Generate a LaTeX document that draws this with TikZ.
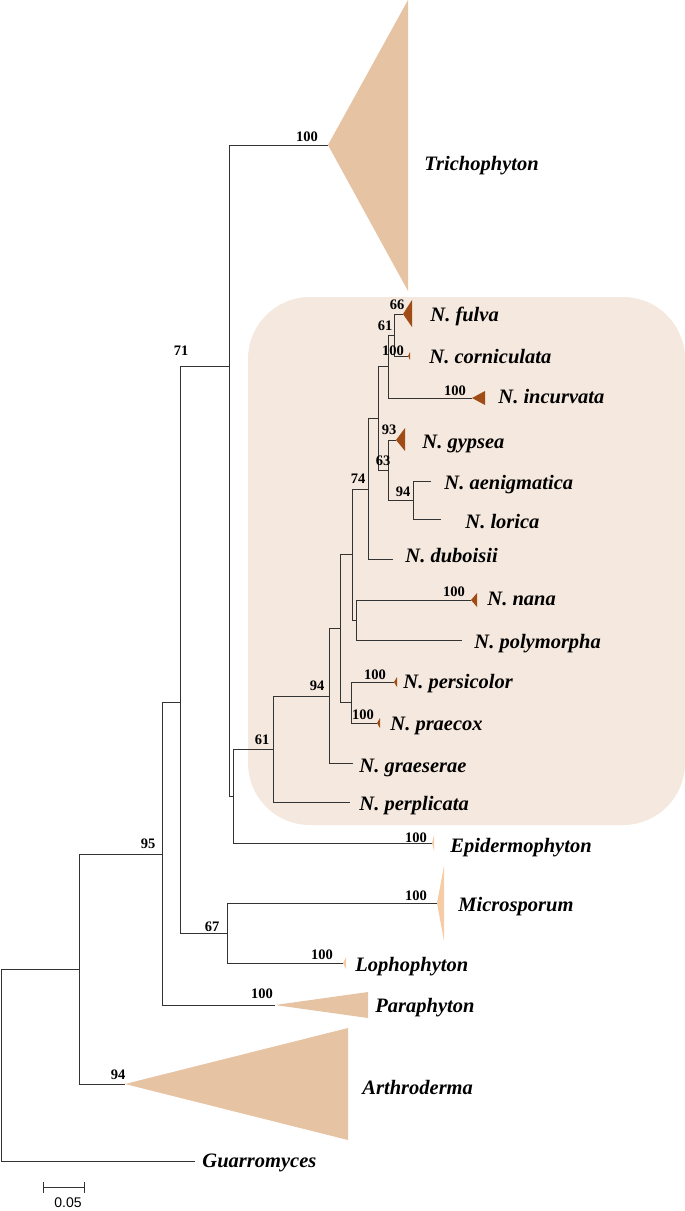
\documentclass[tikz,border=0pt]{standalone}
\usepackage{fontspec}
\setmainfont{Liberation Serif}
\newfontfamily\barfont{Liberation Sans}
\definecolor{boxtan}{RGB}{245,232,222}
\definecolor{cladetan}{RGB}{230,195,163}
\definecolor{cladepeach}{RGB}{246,204,166}
\definecolor{tipbrown}{RGB}{160,76,22}

\begin{document}
\begin{tikzpicture}[x=1pt, y=-1pt, line width=0.9pt,
	br/.style={draw=black!80},
	taxon/.style={anchor=base west, inner sep=0pt, font=\fontsize{20.5}{24}\selectfont\bfseries\itshape},
	boot/.style={anchor=base, inner sep=0pt, font=\fontsize{14.5}{17}\selectfont\bfseries}]
	\useasboundingbox (0,0) rectangle (685,1211);
	\fill[boxtan, rounded corners=62] (248,297) rectangle (685,825);

	\coordinate (root) at (1,969);
	\coordinate (n95) at (79,969);
	\coordinate (n162) at (162,854);
	\coordinate (n180) at (180,702);
	\coordinate (n71) at (229,366);
	\coordinate (n233) at (233,796);
	\coordinate (n67) at (227,933);
	\coordinate (n61) at (273,749);
	\coordinate (n94) at (329,696);
	\coordinate (n340) at (340,628);
	\coordinate (nPP) at (351,702);
	\coordinate (n352) at (352,554);
	\coordinate (nNP) at (356,620);
	\coordinate (n74) at (368,489);
	\coordinate (n378) at (378,418);
	\coordinate (nUp) at (388,366);
	\coordinate (n66) at (394,335);
	\coordinate (n63) at (388,470);
	\coordinate (nAL) at (413,500);

	\coordinate (Tri) at (328,145);
	\coordinate (Epi) at (432,843);
	\coordinate (Mic) at (437,903);
	\coordinate (Lop) at (343,963);
	\coordinate (Par) at (275,1005);
	\coordinate (Art) at (125,1084);
	\coordinate (Gua) at (195,1161);
	\coordinate (Ful) at (403,314);
	\coordinate (Cor) at (408,356);
	\coordinate (Inc) at (472,398);
	\coordinate (Gyp) at (396,440);
	\coordinate (Aen) at (431,481);
	\coordinate (Lor) at (441,519);
	\coordinate (Dub) at (393,559);
	\coordinate (Nan) at (471,600);
	\coordinate (Pol) at (462,640);
	\coordinate (Per) at (394,682);
	\coordinate (Pra) at (377,723);
	\coordinate (Gra) at (353,763);
	\coordinate (Ppl) at (350,802);

	\fill[cladetan] (Tri) -- (408,0) -- (408,291) -- cycle;
	\fill[cladepeach] (Epi) -- (434,835) -- (434,851) -- cycle;
	\fill[cladepeach] (Mic) -- (444,866) -- (444,941) -- cycle;
	\fill[cladepeach] (Lop) -- (346,957) -- (346,969) -- cycle;
	\fill[cladetan] (Par) -- (368,992) -- (368,1018) -- cycle;
	\fill[cladetan] (Art) -- (348,1028) -- (348,1140) -- cycle;
	\fill[tipbrown] (Ful) -- (412,300) -- (412,327) -- cycle;
	\fill[tipbrown] (Cor) -- (410,352) -- (410,360) -- cycle;
	\fill[tipbrown] (Inc) -- (485,391) -- (485,405) -- cycle;
	\fill[tipbrown] (Gyp) -- (405,428) -- (405,451) -- cycle;
	\fill[tipbrown] (Nan) -- (477,593) -- (477,607) -- cycle;
	\fill[tipbrown] (Per) -- (397,677) -- (397,687) -- cycle;
	\fill[tipbrown] (Pra) -- (380,718) -- (380,728) -- cycle;

	\draw[br] (root) |- (n95);
	\draw[br] (root) |- (Gua);
	\draw[br] (n95) |- (n162);
	\draw[br] (n95) |- (Art);
	\draw[br] (n162) |- (n180);
	\draw[br] (n162) |- (Par);
	\draw[br] (n180) |- (n71);
	\draw[br] (n180) |- (n67);
	\draw[br] (n71) |- (Tri);
	\draw[br] (n71) |- (n233);
	\draw[br] (n233) |- (n61);
	\draw[br] (n233) |- (Epi);
	\draw[br] (n67) |- (Mic);
	\draw[br] (n67) |- (Lop);
	\draw[br] (n61) |- (n94);
	\draw[br] (n61) |- (Ppl);
	\draw[br] (n94) |- (n340);
	\draw[br] (n94) |- (Gra);
	\draw[br] (n340) |- (n352);
	\draw[br] (n340) |- (nPP);
	\draw[br] (nPP) |- (Per);
	\draw[br] (nPP) |- (Pra);
	\draw[br] (n352) |- (n74);
	\draw[br] (n352) |- (nNP);
	\draw[br] (nNP) |- (Nan);
	\draw[br] (nNP) |- (Pol);
	\draw[br] (n74) |- (n378);
	\draw[br] (n74) |- (Dub);
	\draw[br] (n378) |- (nUp);
	\draw[br] (n378) |- (n63);
	\draw[br] (nUp) |- (n66);
	\draw[br] (nUp) |- (Inc);
	\draw[br] (n66) |- (Ful);
	\draw[br] (n66) |- (Cor);
	\draw[br] (n63) |- (Gyp);
	\draw[br] (n63) |- (nAL);
	\draw[br] (nAL) |- (Aen);
	\draw[br] (nAL) |- (Lor);

	\node[taxon] (tTri) at (424,170) {Trichophyton};
	\node[taxon] (tFul) at (430,321) {N. fulva};
	\node[taxon] (tCor) at (429,363) {N. corniculata};
	\node[taxon] (tInc) at (498,403) {N. incurvata};
	\node[taxon] (tGyp) at (422,448) {N. gypsea};
	\node[taxon] (tAen) at (444,489) {N. aenigmatica};
	\node[taxon] (tLor) at (465,528) {N. lorica};
	\node[taxon] (tDub) at (405,562) {N. duboisii};
	\node[taxon] (tNan) at (487,605) {N. nana};
	\node[taxon] (tPol) at (474,648) {N. polymorpha};
	\node[taxon] (tPer) at (403,688) {N. persicolor};
	\node[taxon] (tPra) at (390,730) {N. praecox};
	\node[taxon] (tGra) at (359,772) {N. graeserae};
	\node[taxon] (tPpl) at (359,810) {N. perplicata};
	\node[taxon] (tEpi) at (450,852) {Epidermophyton};
	\node[taxon] (tMic) at (458,911) {Microsporum};
	\node[taxon] (tLop) at (355,971) {Lophophyton};
	\node[taxon] (tPar) at (375,1012) {Paraphyton};
	\node[taxon] (tArt) at (362,1094) {Arthroderma};
	\node[taxon] (tGua) at (202,1167) {Guarromyces};

	\node[boot] (bTri) at (307,141) {100};
	\node[boot] (b71) at (181,355) {71};
	\node[boot] (b66) at (397,309) {66};
	\node[boot] (b61u) at (385,330) {61};
	\node[boot] (bCor) at (393,355) {100};
	\node[boot] (bInc) at (455,395) {100};
	\node[boot] (b93) at (389,434) {93};
	\node[boot] (b63) at (383,465) {63};
	\node[boot] (b94u) at (403,496) {94};
	\node[boot] (b74) at (358,483) {74};
	\node[boot] (bNan) at (454,596) {100};
	\node[boot] (bPer) at (375,679) {100};
	\node[boot] (bPra) at (363,719) {100};
	\node[boot] (b94) at (317,690) {94};
	\node[boot] (b61) at (262,744) {61};
	\node[boot] (bEpi) at (416,842) {100};
	\node[boot] (bMic) at (416,900) {100};
	\node[boot] (b67) at (212,931) {67};
	\node[boot] (bLop) at (322,959) {100};
	\node[boot] (b95) at (148,848) {95};
	\node[boot] (bPar) at (262,998) {100};
	\node[boot] (bArt) at (118,1079) {94};

	\coordinate (sbL) at (43,1187);
	\coordinate (sbR) at (84,1187);
	\draw[br] (sbL) -- (sbR);
	\draw[br] ([yshift=-5.5pt]sbL) -- ([yshift=5.5pt]sbL);
	\draw[br] ([yshift=-5.5pt]sbR) -- ([yshift=5.5pt]sbR);
	\node[anchor=base, inner sep=0pt, font=\barfont\fontsize{14}{16}\selectfont] (sbT) at (68,1207) {0.05};
\end{tikzpicture}
\end{document}
